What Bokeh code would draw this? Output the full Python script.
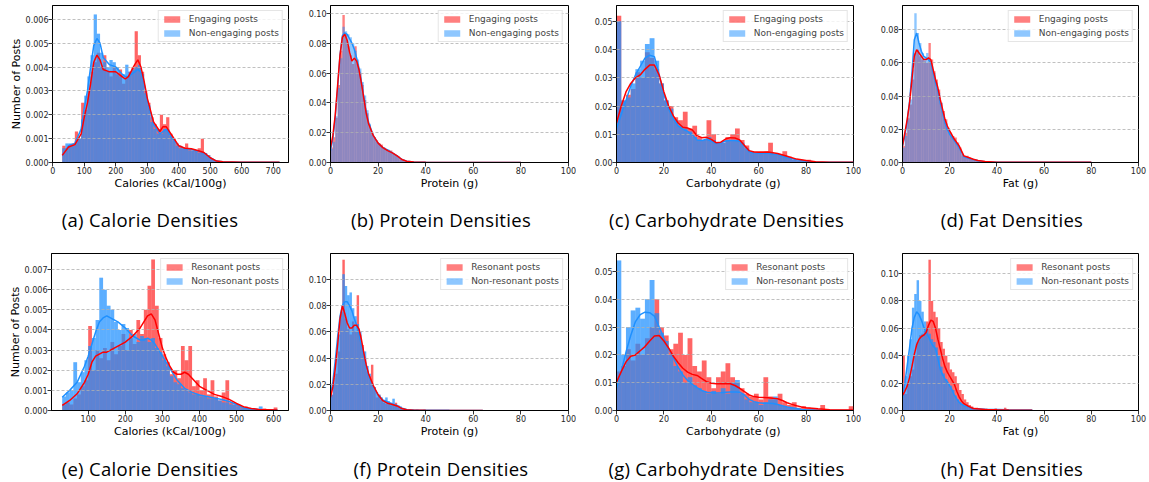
from bokeh.plotting import figure
from bokeh.models import Range1d, FixedTicker, PrintfTickFormatter, Div
from bokeh.layouts import column, row
from bokeh.embed import file_html
from bokeh.resources import INLINE

# ---------------- DATA ----------------
# Calorie bins (kCal/100g): start 30, width 10
CAL_BIN_START, CAL_BIN_W = 30, 10
# Protein / Fat bins (g): start 0, width 1 ; Carbohydrate bins: start 0, width 2
PRO_BIN_START, PRO_BIN_W = 0, 1
CARB_BIN_START, CARB_BIN_W = 0, 2
FAT_BIN_START, FAT_BIN_W = 0, 1

# (a) calories: engaging (red) vs non-engaging (blue)
A_RED = [0.0007, 0.0006, 0.0007, 0.0008, 0.0013, 0.0010, 0.0025, 0.0022, 0.0030, 0.0038,
         0.0042, 0.0046, 0.0040, 0.0045, 0.0038, 0.0036, 0.0040, 0.0037, 0.0039, 0.0033,
         0.0036, 0.0038, 0.0040, 0.0055, 0.0045, 0.0038, 0.0030, 0.0025, 0.0019, 0.0016,
         0.0014, 0.0020, 0.0016, 0.0019, 0.0012, 0.0010, 0.0008, 0.0007, 0.0006, 0.0008,
         0.0006, 0.0005, 0.0005, 0.0006, 0.0010, 0.0004, 0.0003, 0.00015, 0.0001, 0.00005,
         0.00003, 0.00002, 0.00002]
A_BLUE = [0.0006, 0.0008, 0.0008, 0.0007, 0.0009, 0.0010, 0.0018, 0.0028, 0.0036, 0.0045,
          0.0062, 0.0054, 0.0046, 0.0042, 0.0040, 0.0043, 0.0042, 0.0040, 0.0036, 0.0037,
          0.0041, 0.0038, 0.0039, 0.0040, 0.0041, 0.0037, 0.0029, 0.0024, 0.0017, 0.0014,
          0.0012, 0.0012, 0.0014, 0.0014, 0.0011, 0.0009, 0.0007, 0.0006, 0.0006, 0.0006,
          0.0005, 0.0005, 0.0005, 0.0004, 0.0004, 0.0004, 0.0003, 0.00015, 0.0001, 0.00005,
          0.00003, 0.00002, 0.00002]
A_KDE_X = [30, 50, 70, 90, 100, 110, 120, 130, 140, 150, 160, 180, 200, 220, 230, 240, 260, 270,
           280, 290, 300, 320, 340, 350, 360, 380, 400, 420, 440, 460, 480, 500, 520, 540, 600, 720]
A_RED_KDE = [0.00030, 0.00065, 0.00075, 0.0012, 0.0019, 0.0025, 0.0033, 0.0042, 0.0045, 0.0043,
             0.0039, 0.0038, 0.0038, 0.0036, 0.0035, 0.0036, 0.0041, 0.0043, 0.0040, 0.0034,
             0.0027, 0.0017, 0.0013, 0.0015, 0.0015, 0.0011, 0.0007, 0.0006, 0.00058, 0.00050,
             0.00042, 0.00020, 0.00006, 0.00003, 0.00001, 0.00001]
A_BLUE_KDE = [0.00030, 0.0007, 0.0008, 0.0014, 0.0023, 0.0030, 0.0040, 0.0049, 0.0052, 0.0050,
              0.0044, 0.0041, 0.0040, 0.0037, 0.0036, 0.0036, 0.0038, 0.0039, 0.0038, 0.0033,
              0.0026, 0.0016, 0.0012, 0.0013, 0.0014, 0.0010, 0.0007, 0.00058, 0.00055, 0.00048,
              0.00040, 0.00020, 0.00006, 0.00003, 0.00001, 0.00001]

# (b) protein: engaging vs non-engaging
B_RED = [0.010, 0.017, 0.030, 0.052, 0.075, 0.099, 0.086, 0.078, 0.072, 0.066,
         0.078, 0.066, 0.060, 0.052, 0.042, 0.033, 0.025, 0.020, 0.017, 0.015,
         0.013, 0.012, 0.010, 0.009, 0.008, 0.008, 0.006, 0.005, 0.004, 0.003,
         0.0015, 0.0008, 0.0005, 0.0003, 0.0002, 0.0002, 0.0001, 0.0001, 0.0001, 0.0001]
B_BLUE = [0.009, 0.014, 0.031, 0.050, 0.070, 0.091, 0.088, 0.086, 0.084, 0.080,
          0.075, 0.069, 0.063, 0.054, 0.045, 0.035, 0.026, 0.019, 0.017, 0.014,
          0.012, 0.011, 0.010, 0.009, 0.0085, 0.007, 0.006, 0.005, 0.004, 0.002,
          0.0012, 0.0007, 0.0005, 0.0003, 0.0002, 0.0002, 0.0001, 0.0001, 0.0001, 0.0001]
B_KDE_X = [0, 1, 2, 3, 4, 5, 6, 7, 8, 9, 10, 11, 12, 13, 14, 15, 16, 18, 20, 22, 24, 26, 28,
           30, 32, 35, 40, 60, 80]
B_RED_KDE = [0.010, 0.018, 0.032, 0.052, 0.072, 0.084, 0.086, 0.082, 0.074, 0.068, 0.070, 0.068,
             0.062, 0.053, 0.043, 0.033, 0.026, 0.018, 0.013, 0.010, 0.008, 0.0065, 0.0045,
             0.002, 0.0008, 0.0003, 0.0001, 0.00005, 0.00005]
B_BLUE_KDE = [0.008, 0.016, 0.030, 0.050, 0.072, 0.085, 0.087, 0.086, 0.083, 0.080, 0.076, 0.070,
              0.063, 0.054, 0.044, 0.034, 0.027, 0.018, 0.013, 0.010, 0.0085, 0.0065, 0.0045,
              0.002, 0.0008, 0.0003, 0.0001, 0.00005, 0.00005]

# (c) carbohydrate: engaging vs non-engaging
C_RED = [0.052, 0.022, 0.024, 0.026, 0.032, 0.030, 0.039, 0.037, 0.033, 0.028,
         0.022, 0.020, 0.016, 0.015, 0.018, 0.012, 0.013, 0.009, 0.008, 0.015,
         0.010, 0.007, 0.007, 0.009, 0.010, 0.012, 0.008, 0.006, 0.004, 0.004,
         0.004, 0.004, 0.007, 0.003, 0.003, 0.004, 0.002, 0.001, 0.0008, 0.0008,
         0.0010, 0.0004, 0.0002, 0.0001, 0.0001, 0.0001, 0.0001, 0.0001, 0.0001, 0.0001]
C_BLUE = [0.050, 0.022, 0.023, 0.028, 0.033, 0.036, 0.042, 0.044, 0.036, 0.028,
          0.022, 0.019, 0.015, 0.013, 0.012, 0.011, 0.009, 0.008, 0.008, 0.009,
          0.008, 0.007, 0.007, 0.008, 0.008, 0.008, 0.007, 0.005, 0.004, 0.003,
          0.0035, 0.003, 0.0035, 0.003, 0.0025, 0.002, 0.0015, 0.001, 0.0006, 0.0005,
          0.0003, 0.0002, 0.0001, 0.0001, 0.0001, 0.0001, 0.0001, 0.0001, 0.0001, 0.0001]
C_KDE_X = [0, 2, 4, 6, 8, 10, 12, 14, 16, 18, 20, 22, 24, 26, 28, 30, 32, 34, 36, 38, 40, 42,
           44, 46, 48, 50, 52, 54, 56, 58, 60, 64, 68, 72, 76, 80, 84, 90, 100]
C_RED_KDE = [0.014, 0.020, 0.025, 0.028, 0.030, 0.031, 0.033, 0.0345, 0.0345, 0.031, 0.025,
             0.020, 0.0165, 0.014, 0.0125, 0.0122, 0.0115, 0.0095, 0.0088, 0.0089, 0.0082,
             0.0070, 0.0072, 0.0083, 0.0088, 0.0087, 0.0080, 0.0060, 0.0042, 0.0037, 0.0036,
             0.0037, 0.0032, 0.0022, 0.0012, 0.0007, 0.0003, 0.0001, 0.00005]
C_BLUE_KDE = [0.012, 0.017, 0.022, 0.027, 0.031, 0.034, 0.037, 0.038, 0.0375, 0.031, 0.024,
              0.019, 0.0155, 0.013, 0.0118, 0.011, 0.0098, 0.008, 0.0078, 0.0082, 0.0076,
              0.0068, 0.0070, 0.0076, 0.0078, 0.0078, 0.0075, 0.0058, 0.0038, 0.0034, 0.0033,
              0.0033, 0.0028, 0.0018, 0.0010, 0.0005, 0.0002, 0.0001, 0.00005]

# (d) fat: engaging vs non-engaging
D_RED = [0.010, 0.018, 0.027, 0.035, 0.050, 0.066, 0.068, 0.064, 0.062, 0.061,
         0.060, 0.072, 0.062, 0.055, 0.050, 0.044, 0.036, 0.031, 0.026, 0.021,
         0.018, 0.016, 0.015, 0.012, 0.009, 0.005, 0.004, 0.004, 0.003, 0.002,
         0.0018, 0.0015, 0.001, 0.0008, 0.0006, 0.0005, 0.0008, 0.0004, 0.0002, 0.0002,
         0.0002, 0.0002, 0.0002, 0.0002, 0.0002]
D_BLUE = [0.009, 0.016, 0.026, 0.038, 0.056, 0.090, 0.078, 0.072, 0.066, 0.063,
          0.066, 0.062, 0.058, 0.054, 0.048, 0.042, 0.036, 0.029, 0.024, 0.020,
          0.017, 0.015, 0.013, 0.011, 0.008, 0.004, 0.0035, 0.003, 0.0025, 0.002,
          0.0016, 0.0012, 0.0009, 0.0007, 0.0005, 0.0004, 0.0002, 0.0002, 0.0002, 0.0002,
          0.0002, 0.0002, 0.0002, 0.0002, 0.0002]
D_KDE_X = [0, 1, 2, 3, 4, 5, 6, 7, 8, 9, 10, 11, 12, 13, 14, 15, 16, 17, 18, 19, 20, 22, 24,
           26, 28, 30, 32, 35, 40, 60, 80]
D_RED_KDE = [0.010, 0.018, 0.026, 0.036, 0.050, 0.064, 0.068, 0.066, 0.064, 0.062, 0.062, 0.063,
             0.062, 0.056, 0.050, 0.045, 0.038, 0.032, 0.026, 0.022, 0.019, 0.014, 0.010,
             0.004, 0.003, 0.002, 0.0012, 0.0006, 0.0002, 0.0001, 0.0001]
D_BLUE_KDE = [0.010, 0.016, 0.025, 0.037, 0.054, 0.074, 0.078, 0.072, 0.067, 0.064, 0.063, 0.062,
              0.060, 0.054, 0.048, 0.043, 0.036, 0.030, 0.024, 0.020, 0.017, 0.013, 0.009,
              0.0035, 0.0025, 0.0018, 0.001, 0.0005, 0.0002, 0.0001, 0.0001]

# (e) calories: resonant (red) vs non-resonant (blue)
E_RED = [0.0003, 0.0004, 0.0003, 0.0006, 0.0008, 0.0012, 0.0015, 0.0042, 0.0020, 0.0030,
         0.0026, 0.0031, 0.0025, 0.0034, 0.0028, 0.0032, 0.0038, 0.0030, 0.0040, 0.0033,
         0.0045, 0.0038, 0.0050, 0.0062, 0.0075, 0.0052, 0.0036, 0.0028, 0.0024, 0.0018,
         0.0020, 0.0016, 0.0032, 0.0025, 0.0032, 0.0012, 0.0015, 0.0010, 0.0016, 0.0008,
         0.0015, 0.0007, 0.0005, 0.0009, 0.0015, 0.0004, 0.0003, 0.0003, 0.0002, 0.0002,
         0.0001, 0.0001, 0.00005, 0.00005, 0.0001, 0.00005, 0.00005, 0.00015]
E_BLUE = [0.0007, 0.0009, 0.0010, 0.0024, 0.0014, 0.0019, 0.0025, 0.0032, 0.0036, 0.0045,
          0.0066, 0.0060, 0.0052, 0.0050, 0.0044, 0.0040, 0.0043, 0.0041, 0.0036, 0.0038,
          0.0034, 0.0037, 0.0036, 0.0034, 0.0036, 0.0031, 0.0029, 0.0025, 0.0022, 0.0017,
          0.0014, 0.0013, 0.0011, 0.0010, 0.0009, 0.0008, 0.0008, 0.0007, 0.0007, 0.0006,
          0.0006, 0.0006, 0.0005, 0.0004, 0.0004, 0.0003, 0.0003, 0.0002, 0.0001, 0.0001,
          0.00008, 0.00005, 0.00005, 0.0002, 0.00005, 0.00005, 0.00003, 0.00003]
E_KDE_X = [30, 50, 70, 90, 100, 110, 120, 130, 140, 150, 160, 180, 200, 220, 240, 250, 260, 270,
           280, 290, 300, 310, 320, 330, 340, 350, 360, 370, 380, 400, 420, 440, 460, 480, 500,
           520, 540, 560, 610]
E_RED_KDE = [0.00025, 0.0005, 0.00083, 0.0014, 0.0018, 0.0024, 0.0027, 0.0028, 0.0029, 0.0029,
             0.0030, 0.0032, 0.0034, 0.0037, 0.0041, 0.0044, 0.0047, 0.0048, 0.0045, 0.0038,
             0.0031, 0.0026, 0.0022, 0.0019, 0.0018, 0.0018, 0.0019, 0.0018, 0.0016, 0.0012,
             0.0010, 0.0008, 0.0007, 0.00055, 0.00035, 0.00018, 0.0001, 0.00005, 0.00002]
E_BLUE_KDE = [0.00066, 0.0010, 0.0014, 0.0022, 0.0027, 0.0033, 0.0039, 0.0044, 0.0046, 0.0047,
              0.0046, 0.0044, 0.0041, 0.0037, 0.0035, 0.0035, 0.0036, 0.0035, 0.0033, 0.0030,
              0.0027, 0.0024, 0.0021, 0.0018, 0.0015, 0.0013, 0.0011, 0.0010, 0.0009, 0.00077,
              0.0007, 0.00062, 0.00055, 0.00045, 0.0003, 0.00012, 0.00008, 0.00005, 0.00003]

# (f) protein: resonant vs non-resonant
F_RED = [0.012, 0.020, 0.028, 0.045, 0.075, 0.115, 0.070, 0.062, 0.058, 0.068,
         0.060, 0.088, 0.058, 0.050, 0.040, 0.030, 0.026, 0.035, 0.018, 0.010,
         0.012, 0.008, 0.006, 0.005, 0.006, 0.004, 0.005, 0.006, 0.003, 0.002,
         0.001, 0.0003, 0.0003, 0.0003, 0.0003, 0.0003, 0.0003, 0.0003, 0.0003, 0.0003, 0.0003]
F_BLUE = [0.012, 0.025, 0.040, 0.058, 0.075, 0.104, 0.095, 0.088, 0.090, 0.078,
          0.072, 0.066, 0.060, 0.048, 0.045, 0.034, 0.028, 0.020, 0.018, 0.014,
          0.012, 0.010, 0.008, 0.010, 0.007, 0.006, 0.009, 0.005, 0.004, 0.003,
          0.002, 0.001, 0.001, 0.0008, 0.0005, 0.0005, 0.0008, 0.0003, 0.0003, 0.0005, 0.0003]
F_KDE_X = [0, 1, 2, 3, 4, 5, 6, 7, 8, 9, 10, 11, 12, 13, 14, 15, 16, 18, 20, 22, 24, 26, 28,
           30, 32, 35, 40, 50, 64]
F_RED_KDE = [0.010, 0.018, 0.032, 0.050, 0.070, 0.080, 0.074, 0.067, 0.063, 0.063, 0.065, 0.065,
             0.062, 0.054, 0.044, 0.035, 0.028, 0.019, 0.012, 0.0075, 0.0055, 0.0046, 0.0035,
             0.0015, 0.0005, 0.0002, 0.0001, 0.00005, 0.00005]
F_BLUE_KDE = [0.012, 0.022, 0.038, 0.056, 0.072, 0.080, 0.083, 0.083, 0.080, 0.076, 0.070, 0.065,
              0.058, 0.050, 0.042, 0.034, 0.027, 0.018, 0.012, 0.008, 0.0065, 0.005, 0.0035,
              0.0017, 0.0008, 0.0004, 0.0002, 0.0001, 0.0]

# (g) carbohydrate: resonant vs non-resonant
G_RED = [0.014, 0.016, 0.022, 0.018, 0.024, 0.020, 0.026, 0.030, 0.040, 0.030,
         0.027, 0.022, 0.024, 0.028, 0.020, 0.026, 0.016, 0.014, 0.018, 0.012,
         0.008, 0.012, 0.014, 0.017, 0.012, 0.010, 0.008, 0.006, 0.005, 0.006,
         0.004, 0.012, 0.005, 0.004, 0.006, 0.003, 0.002, 0.003, 0.001, 0.0015,
         0.001, 0.0005, 0.0005, 0.002, 0.0003, 0.0003, 0.0003, 0.0003, 0.0003, 0.0015]
G_BLUE = [0.054, 0.020, 0.030, 0.036, 0.037, 0.033, 0.040, 0.047, 0.035, 0.028,
          0.025, 0.020, 0.016, 0.014, 0.010, 0.012, 0.009, 0.008, 0.007, 0.006,
          0.007, 0.006, 0.008, 0.006, 0.010, 0.011, 0.006, 0.004, 0.003, 0.003,
          0.002, 0.003, 0.004, 0.005, 0.002, 0.0015, 0.001, 0.0008, 0.0005, 0.0003,
          0.0002, 0.0001, 0.0001, 0.0001, 0.0001, 0.0001, 0.0001, 0.0001, 0.0001, 0.0001]
G_KDE_X = [0, 2, 4, 6, 8, 10, 12, 14, 16, 18, 20, 22, 24, 26, 28, 30, 32, 34, 36, 38, 40, 42,
           44, 46, 48, 50, 52, 54, 56, 58, 60, 62, 64, 66, 68, 70, 72, 74, 76, 78, 80, 85, 90, 100]
G_RED_KDE = [0.0102, 0.014, 0.0175, 0.0195, 0.020, 0.0215, 0.023, 0.025, 0.0268, 0.027, 0.025,
             0.0225, 0.0195, 0.0172, 0.0152, 0.0138, 0.013, 0.0126, 0.0115, 0.0104, 0.0098,
             0.0096, 0.0096, 0.0097, 0.0096, 0.0090, 0.0080, 0.0068, 0.0056, 0.0050, 0.0048,
             0.0047, 0.0046, 0.0044, 0.0042, 0.0036, 0.0028, 0.0022, 0.0017, 0.0013, 0.0010,
             0.0006, 0.0003, 0.0002]
G_BLUE_KDE = [0.008, 0.014, 0.021, 0.027, 0.032, 0.0345, 0.0354, 0.0352, 0.034, 0.030, 0.026,
              0.0222, 0.019, 0.0155, 0.0128, 0.0108, 0.0094, 0.0082, 0.0072, 0.0066, 0.0064,
              0.0063, 0.0064, 0.0066, 0.0067, 0.0067, 0.0066, 0.0055, 0.0040, 0.0032, 0.0028,
              0.0026, 0.0026, 0.0025, 0.0022, 0.0017, 0.0013, 0.0010, 0.0007, 0.0004, 0.0003,
              0.0001, 0.00005, 0.0]

# (h) fat: resonant vs non-resonant
H_RED = [0.040, 0.012, 0.020, 0.025, 0.030, 0.040, 0.050, 0.055, 0.056, 0.058,
         0.065, 0.110, 0.080, 0.072, 0.068, 0.060, 0.050, 0.045, 0.040, 0.035,
         0.030, 0.028, 0.025, 0.020, 0.015, 0.012, 0.008, 0.006, 0.004, 0.003,
         0.002, 0.002, 0.0015, 0.001, 0.001, 0.0015, 0.001, 0.0008, 0.0005, 0.0015,
         0.0005, 0.0005, 0.0003, 0.002, 0.0003]
H_BLUE = [0.012, 0.025, 0.040, 0.052, 0.075, 0.085, 0.095, 0.080, 0.072, 0.065,
          0.060, 0.056, 0.052, 0.050, 0.046, 0.040, 0.032, 0.027, 0.023, 0.020,
          0.018, 0.015, 0.011, 0.008, 0.006, 0.005, 0.004, 0.003, 0.0025, 0.002,
          0.0015, 0.0012, 0.001, 0.001, 0.0008, 0.0008, 0.0007, 0.0006, 0.0006, 0.0005,
          0.0005, 0.0004, 0.0004, 0.0003, 0.0003]
H_KDE_X = [0, 1, 2, 3, 4, 5, 6, 7, 8, 9, 10, 11, 12, 13, 14, 15, 16, 17, 18, 19, 20, 21, 22,
           23, 24, 25, 26, 28, 30, 35, 40, 45, 50, 55]
H_RED_KDE = [0.011, 0.014, 0.018, 0.024, 0.032, 0.041, 0.048, 0.052, 0.054, 0.055, 0.057, 0.062,
             0.066, 0.065, 0.060, 0.052, 0.045, 0.038, 0.032, 0.028, 0.025, 0.022, 0.019, 0.014,
             0.010, 0.007, 0.005, 0.003, 0.0015, 0.0008, 0.0005, 0.0003, 0.0002, 0.0001]
H_BLUE_KDE = [0.009, 0.020, 0.033, 0.046, 0.060, 0.068, 0.072, 0.070, 0.066, 0.061, 0.057, 0.054,
              0.050, 0.047, 0.045, 0.038, 0.030, 0.026, 0.023, 0.021, 0.018, 0.015, 0.011,
              0.0085, 0.006, 0.0045, 0.0035, 0.0025, 0.0015, 0.0009, 0.0007, 0.0005, 0.0004,
              0.0003]

# ticks
CAL_XTICKS_A = [0, 100, 200, 300, 400, 500, 600, 700]
CAL_XTICKS_E = [100, 200, 300, 400, 500, 600]
G_XTICKS = [0, 20, 40, 60, 80, 100]
A_YTICKS = [0.000, 0.001, 0.002, 0.003, 0.004, 0.005, 0.006]
B_YTICKS = [0.00, 0.02, 0.04, 0.06, 0.08, 0.10]
C_YTICKS = [0.00, 0.01, 0.02, 0.03, 0.04, 0.05]
D_YTICKS = [0.00, 0.02, 0.04, 0.06, 0.08]
E_YTICKS = [0.000, 0.001, 0.002, 0.003, 0.004, 0.005, 0.006, 0.007]
F_YTICKS = [0.00, 0.02, 0.04, 0.06, 0.08, 0.10]
G_YTICKS = [0.00, 0.01, 0.02, 0.03, 0.04, 0.05]
H_YTICKS = [0.00, 0.02, 0.04, 0.06, 0.08, 0.10]

LABELS_TOP = ["Engaging posts", "Non-engaging posts"]
LABELS_BOT = ["Resonant posts", "Non-resonant posts"]
CAPTIONS = ["(a) Calorie Densities", "(b) Protein Densities", "(c) Carbohydrate Densities",
            "(d) Fat Densities", "(e) Calorie Densities", "(f) Protein Densities",
            "(g) Carbohydrate Densities", "(h) Fat Densities"]
XLABELS = ["Calories (kCal/100g)", "Protein (g)", "Carbohydrate  (g)", "Fat (g)"]
YLABEL = "Number of Posts"

# ---------------- STYLE / LAYOUT ----------------
RED = "#ff0000"
BLUE = "#1e90ff"
TICK_FONT = "DejaVu Sans"
CAP_FONT = "Open Sans"


def make_panel(w, h, bl, br, bt, bb, xr, yr, xticks, yticks, yfmt, xlabel, ylabel,
               labels, bin_start, bin_w, red, blue, kx, rk, bk, extra_r, extra_b):
    p = figure(width=w, height=h, x_range=Range1d(*xr), y_range=Range1d(*yr),
               output_backend="svg", toolbar_location=None, title=None,
               min_border_left=bl, min_border_right=br, min_border_top=bt,
               min_border_bottom=bb)
    p.background_fill_color = "white"
    p.border_fill_color = "white"
    p.outline_line_color = "black"
    p.outline_line_width = 1
    p.outline_line_alpha = 1

    lefts_r = [bin_start + i * bin_w for i in range(len(red))]
    rights_r = [l + bin_w for l in lefts_r]
    lefts_b = [bin_start + i * bin_w for i in range(len(blue))]
    rights_b = [l + bin_w for l in lefts_b]
    p.quad(left=lefts_r, right=rights_r, bottom=0, top=red,
           fill_color=RED, fill_alpha=0.5, line_color=None, legend_label=labels[0])
    if extra_r:
        p.quad(left=lefts_r, right=rights_r, bottom=0, top=red,
               fill_color=RED, fill_alpha=extra_r, line_color=None)
    p.quad(left=lefts_b, right=rights_b, bottom=0, top=blue,
           fill_color=BLUE, fill_alpha=0.5, line_color=None, legend_label=labels[1])
    if extra_b:
        p.quad(left=lefts_b, right=rights_b, bottom=0, top=blue,
               fill_color=BLUE, fill_alpha=extra_b, line_color=None)
    n = min(len(kx), len(bk))
    p.line(kx[:n], bk[:n], line_color=BLUE, line_width=1.5)
    n = min(len(kx), len(rk))
    p.line(kx[:n], rk[:n], line_color=RED, line_width=1.5)

    p.xgrid.visible = False
    p.ygrid.grid_line_color = "#b0b0b0"
    p.ygrid.grid_line_dash = "3 2"
    p.ygrid.grid_line_width = 0.8
    p.ygrid.level = "guide"

    p.xaxis.ticker = FixedTicker(ticks=xticks)
    p.yaxis.ticker = FixedTicker(ticks=yticks)
    p.yaxis.formatter = PrintfTickFormatter(format=yfmt)
    for ax in (p.xaxis[0], p.yaxis[0]):
        ax.major_tick_out = 4
        ax.major_tick_in = 0
        ax.minor_tick_out = 0
        ax.minor_tick_in = 0
        ax.major_tick_line_color = "black"
        ax.major_tick_line_width = 0.8
        ax.axis_line_color = "black"
        ax.major_label_text_font = TICK_FONT
        ax.major_label_text_font_size = "8px"
        ax.major_label_text_color = "#262626"
        ax.major_label_standoff = 0
        ax.axis_label_text_font = TICK_FONT
        ax.axis_label_text_font_size = "11px"
        ax.axis_label_text_font_style = "normal"
        ax.axis_label_text_color = "black"
    p.xaxis.axis_label = xlabel
    p.xaxis.axis_label_standoff = 0
    if ylabel:
        p.yaxis.axis_label = ylabel
        p.yaxis.axis_label_standoff = 0

    lg = p.legend[0]
    lg.location = "top_right"
    lg.margin = 5
    lg.padding = 3
    lg.spacing = 4
    lg.glyph_width = 20
    lg.glyph_height = 8
    lg.label_height = 9
    lg.label_standoff = 7
    lg.label_text_font = TICK_FONT
    lg.label_text_font_size = "9px"
    lg.border_line_color = "#cccccc"
    lg.border_line_width = 1
    lg.background_fill_alpha = 0.8
    return p


def caption(text, w, h, dx, dy):
    html = ('<div style="position:relative; left:%dpx; top:%dpx; width:%dpx; '
            'text-align:center; font-family:\'%s\', sans-serif; font-size:18.5px; '
            'letter-spacing:0.3px; line-height:20px; white-space:nowrap; color:#000;">%s</div>'
            % (dx, dy, w, CAP_FONT, text))
    return Div(text=html, width=w, height=h, margin=0)


R1 = dict(h=200, bt=5, bb=38)
R2 = dict(h=203, bt=8, bb=38)
W = [290, 286, 285, 288]
SAT = dict(extra_r=0.2, extra_b=0.44)
PLAIN = dict(extra_r=0, extra_b=0)

pa = make_panel(W[0], bl=52, br=2, xr=(-1, 748.5), yr=(0, 0.00658), xticks=CAL_XTICKS_A,
                yticks=A_YTICKS, yfmt="%.3f", xlabel=XLABELS[0], ylabel=YLABEL, labels=LABELS_TOP,
                bin_start=CAL_BIN_START, bin_w=CAL_BIN_W, red=A_RED, blue=A_BLUE,
                kx=A_KDE_X, rk=A_RED_KDE, bk=A_BLUE_KDE, **SAT, **R1)
pb = make_panel(W[1], bl=40, br=8, xr=(0, 100), yr=(0, 0.1053), xticks=G_XTICKS,
                yticks=B_YTICKS, yfmt="%.2f", xlabel=XLABELS[1], ylabel=None, labels=LABELS_TOP,
                bin_start=PRO_BIN_START, bin_w=PRO_BIN_W, red=B_RED, blue=B_BLUE,
                kx=B_KDE_X, rk=B_RED_KDE, bk=B_BLUE_KDE, **PLAIN, **R1)
pc = make_panel(W[2], bl=40, br=8, xr=(0, 100), yr=(0, 0.0556), xticks=G_XTICKS,
                yticks=C_YTICKS, yfmt="%.2f", xlabel=XLABELS[2], ylabel=None, labels=LABELS_TOP,
                bin_start=CARB_BIN_START, bin_w=CARB_BIN_W, red=C_RED, blue=C_BLUE,
                kx=C_KDE_X, rk=C_RED_KDE, bk=C_BLUE_KDE, **SAT, **R1)
pd = make_panel(W[3], bl=41, br=11, xr=(0, 100), yr=(0, 0.0946), xticks=G_XTICKS,
                yticks=D_YTICKS, yfmt="%.2f", xlabel=XLABELS[3], ylabel=None, labels=LABELS_TOP,
                bin_start=FAT_BIN_START, bin_w=FAT_BIN_W, red=D_RED, blue=D_BLUE,
                kx=D_KDE_X, rk=D_RED_KDE, bk=D_BLUE_KDE, **PLAIN, **R1)
pe = make_panel(W[0], bl=51, br=2, xr=(1, 640), yr=(0, 0.0078), xticks=CAL_XTICKS_E,
                yticks=E_YTICKS, yfmt="%.3f", xlabel=XLABELS[0], ylabel=YLABEL, labels=LABELS_BOT,
                bin_start=CAL_BIN_START, bin_w=CAL_BIN_W, red=E_RED, blue=E_BLUE,
                kx=E_KDE_X, rk=E_RED_KDE, bk=E_BLUE_KDE, **SAT, **R2)
pf = make_panel(W[1], bl=40, br=8, xr=(0, 100), yr=(0, 0.1198), xticks=G_XTICKS,
                yticks=F_YTICKS, yfmt="%.2f", xlabel=XLABELS[1], ylabel=None, labels=LABELS_BOT,
                bin_start=PRO_BIN_START, bin_w=PRO_BIN_W, red=F_RED, blue=F_BLUE,
                kx=F_KDE_X, rk=F_RED_KDE, bk=F_BLUE_KDE, **SAT, **R2)
pg = make_panel(W[2], bl=40, br=8, xr=(0, 100), yr=(0, 0.0565), xticks=G_XTICKS,
                yticks=G_YTICKS, yfmt="%.2f", xlabel=XLABELS[2], ylabel=None, labels=LABELS_BOT,
                bin_start=CARB_BIN_START, bin_w=CARB_BIN_W, red=G_RED, blue=G_BLUE,
                kx=G_KDE_X, rk=G_RED_KDE, bk=G_BLUE_KDE, **SAT, **R2)
ph = make_panel(W[3], bl=41, br=11, xr=(0, 100), yr=(0, 0.1146), xticks=G_XTICKS,
                yticks=H_YTICKS, yfmt="%.2f", xlabel=XLABELS[3], ylabel=None, labels=LABELS_BOT,
                bin_start=FAT_BIN_START, bin_w=FAT_BIN_W, red=H_RED, blue=H_BLUE,
                kx=H_KDE_X, rk=H_RED_KDE, bk=H_BLUE_KDE, **SAT, **R2)

CAP_DX = [5, 8, 8, 7]
caps1 = [caption(CAPTIONS[i], W[i], 45, CAP_DX[i], 10) for i in range(4)]
caps2 = [caption(CAPTIONS[4 + i], W[i], 34, CAP_DX[i], 11) for i in range(4)]

layout = column(row(pa, pb, pc, pd), row(*caps1), row(pe, pf, pg, ph), row(*caps2))
open("out.html", "w").write(file_html(layout, INLINE))
